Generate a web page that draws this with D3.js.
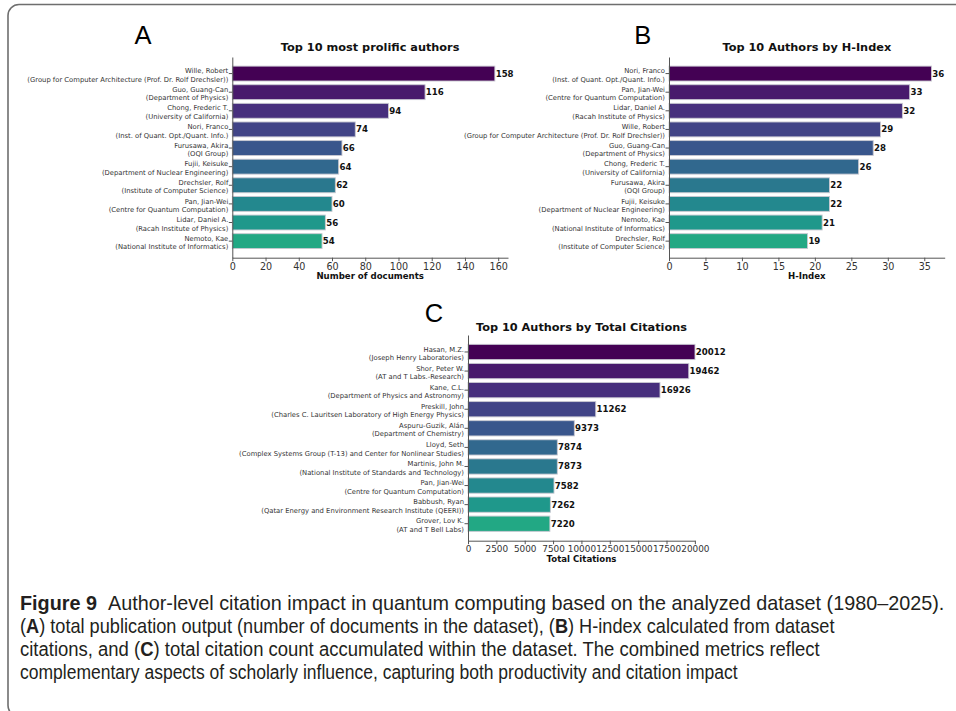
<!DOCTYPE html>
<html>
<head>
<meta charset="utf-8">
<script src="https://cdn.jsdelivr.net/npm/d3@7"></script>
<style>
  html, body { margin: 0; padding: 0; background: #fff; }
  svg { display: block; }
</style>
</head>
<body>
<svg id="fig" width="956" height="711"></svg>
<script>
// ---- Panel A: most prolific authors ----
const prolificNames = ["Wille, Robert", "Guo, Guang-Can", "Chong, Frederic T.", "Nori, Franco",
  "Furusawa, Akira", "Fujii, Keisuke", "Drechsler, Rolf", "Pan, Jian-Wei", "Lidar, Daniel A.", "Nemoto, Kae"];
const prolificAffils = ["(Group for Computer Architecture (Prof. Dr. Rolf Drechsler))", "(Department of Physics)",
  "(University of California)", "(Inst. of Quant. Opt./Quant. Info.)", "(OQI Group)",
  "(Department of Nuclear Engineering)", "(Institute of Computer Science)", "(Centre for Quantum Computation)",
  "(Racah Institute of Physics)", "(National Institute of Informatics)"];
const prolificDocs = [158, 116, 94, 74, 66, 64, 62, 60, 56, 54];
const prolificTicks = [0, 20, 40, 60, 80, 100, 120, 140, 160];

// ---- Panel B: H-index ----
const hNames = ["Nori, Franco", "Pan, Jian-Wei", "Lidar, Daniel A.", "Wille, Robert", "Guo, Guang-Can",
  "Chong, Frederic T.", "Furusawa, Akira", "Fujii, Keisuke", "Nemoto, Kae", "Drechsler, Rolf"];
const hAffils = ["(Inst. of Quant. Opt./Quant. Info.)", "(Centre for Quantum Computation)", "(Racah Institute of Physics)",
  "(Group for Computer Architecture (Prof. Dr. Rolf Drechsler))", "(Department of Physics)", "(University of California)",
  "(OQI Group)", "(Department of Nuclear Engineering)", "(National Institute of Informatics)", "(Institute of Computer Science)"];
const hIndex = [36, 33, 32, 29, 28, 26, 22, 22, 21, 19];
const hTicks = [0, 5, 10, 15, 20, 25, 30, 35];

// ---- Panel C: total citations ----
const citeNames = ["Hasan, M.Z.", "Shor, Peter W.", "Kane, C.L.", "Preskill, John", "Aspuru-Guzik, Alán",
  "Lloyd, Seth", "Martinis, John M.", "Pan, Jian-Wei", "Babbush, Ryan", "Grover, Lov K."];
const citeAffils = ["(Joseph Henry Laboratories)", "(AT and T Labs.-Research)", "(Department of Physics and Astronomy)",
  "(Charles C. Lauritsen Laboratory of High Energy Physics)", "(Department of Chemistry)",
  "(Complex Systems Group (T-13) and Center for Nonlinear Studies)", "(National Institute of Standards and Technology)",
  "(Centre for Quantum Computation)", "(Qatar Energy and Environment Research Institute (QEERI))", "(AT and T Bell Labs)"];
const citeTotals = [20012, 19462, 16926, 11262, 9373, 7874, 7873, 7582, 7262, 7220];
const citeTicks = [0, 2500, 5000, 7500, 10000, 12500, 15000, 17500, 20000];

// ---- Caption ----
const captionLabel = "Figure 9";
const captionLines = [
  [{b: false, t: "Author-level citation impact in quantum computing based on the analyzed dataset (1980–2025)."}],
  [{b: false, t: "("}, {b: true, t: "A"}, {b: false, t: ") total publication output (number of documents in the dataset), ("},
   {b: true, t: "B"}, {b: false, t: ") H-index calculated from dataset"}],
  [{b: false, t: "citations, and ("}, {b: true, t: "C"}, {b: false, t: ") total citation count accumulated within the dataset. The combined metrics reflect"}],
  [{b: false, t: "complementary aspects of scholarly influence, capturing both productivity and citation impact"}]
];

const svg = d3.select("#fig");
const SANS = "'DejaVu Sans', sans-serif";

// outer rounded frame (runs off the right and bottom edges)
svg.append("rect")
  .attr("x", 8).attr("y", 4.5).attr("width", 1000).attr("height", 712)
  .attr("rx", 11).attr("ry", 11)
  .attr("fill", "none").attr("stroke", "#6e6e6e").attr("stroke-width", 1.6);

function drawPanel(cfg) {
  const g = svg.append("g");
  const x = d3.scaleLinear().domain([0, cfg.xMax]).range(cfg.xRange);
  const y = d3.scaleBand().domain(d3.range(cfg.values.length)).range(cfg.yRange)
    .paddingInner(0.2).paddingOuter(0.49);
  const color = i => d3.interpolateViridis(i * 0.6 / (cfg.values.length - 1));

  // bars
  g.selectAll("rect.bar").data(cfg.values).join("rect")
    .attr("class", "bar")
    .attr("x", x(0))
    .attr("y", (d, i) => y(i))
    .attr("width", d => x(d) - x(0))
    .attr("height", y.bandwidth())
    .attr("fill", (d, i) => color(i))
    .attr("stroke", "#c9c9d2").attr("stroke-width", 0.9);

  // value labels
  g.selectAll("text.val").data(cfg.values).join("text")
    .attr("class", "val")
    .attr("x", d => x(d) + 0.8)
    .attr("y", (d, i) => y(i) + y.bandwidth() / 2 + 3)
    .attr("font-family", SANS).attr("font-weight", "bold").attr("font-size", 8.6)
    .attr("fill", "#111")
    .text(d => d);

  // x axis
  const xa = g.append("g").attr("transform", `translate(0,${cfg.yRange[1]})`)
    .call(d3.axisBottom(x).tickValues(cfg.ticks).tickFormat(d3.format("d"))
      .tickSize(3.5).tickSizeOuter(0).tickPadding(1.6));
  xa.selectAll("text").attr("font-family", SANS).attr("font-size", cfg.tickFont).attr("fill", "#333");
  xa.selectAll("line").attr("stroke", "#555");
  xa.select(".domain").attr("stroke", "#555").attr("stroke-width", 1);

  // y axis with two-line labels
  const ya = g.append("g").attr("transform", `translate(${cfg.xRange[0]},0)`)
    .call(d3.axisLeft(y).tickSize(3.5).tickSizeOuter(0).tickPadding(1.5).tickFormat(() => ""));
  ya.selectAll("line").attr("stroke", "#555");
  ya.select(".domain").attr("stroke", "#555").attr("stroke-width", 1);
  ya.selectAll(".tick").each(function (d) {
    const t = d3.select(this).select("text")
      .attr("font-family", SANS).attr("font-size", 6.8).attr("fill", "#333")
      .attr("x", -4).attr("dy", null).attr("y", null);
    t.append("tspan").attr("x", -4).attr("y", -0.4).text(cfg.names[d]);
    t.append("tspan").attr("x", -4).attr("y", 8.2).text(cfg.affils[d]);
  });

  const cx = (cfg.xRange[0] + cfg.xRange[1]) / 2;
  // title
  g.append("text").attr("x", cx).attr("y", cfg.titleY)
    .attr("text-anchor", "middle").attr("font-family", SANS).attr("font-weight", "bold")
    .attr("font-size", 11.3).attr("fill", "#111").text(cfg.title);
  // x label
  g.append("text").attr("x", cx).attr("y", cfg.yRange[1] + 21.5)
    .attr("text-anchor", "middle").attr("font-family", SANS).attr("font-weight", "bold")
    .attr("font-size", 8.6).attr("fill", "#111").text(cfg.xLabel);
  // panel letter
  g.append("text").attr("x", cfg.letterPos[0]).attr("y", cfg.letterPos[1])
    .attr("text-anchor", "middle").attr("font-family", "'Liberation Sans', Arial, sans-serif")
    .attr("font-size", 25.5).attr("fill", "#000").text(cfg.letter);
}

drawPanel({
  names: prolificNames, affils: prolificAffils, values: prolificDocs, ticks: prolificTicks, tickFont: 9.6,
  xMax: d3.max(prolificDocs) * 1.05, xRange: [232.3, 508], yRange: [57, 257.7],
  title: "Top 10 most prolific authors", titleY: 50.8, xLabel: "Number of documents",
  letter: "A", letterPos: [143, 43.5]
});

drawPanel({
  names: hNames, affils: hAffils, values: hIndex, ticks: hTicks, tickFont: 9.6,
  xMax: d3.max(hIndex) * 1.05, xRange: [669, 944.7], yRange: [57, 257.7],
  title: "Top 10 Authors by H-Index", titleY: 50.8, xLabel: "H-Index",
  letter: "B", letterPos: [642.7, 43.5]
});

drawPanel({
  names: citeNames, affils: citeAffils, values: citeTotals, ticks: citeTicks, tickFont: 8.9,
  xMax: d3.max(citeTotals), xRange: [468, 695], yRange: [335, 540.7],
  title: "Top 10 Authors by Total Citations", titleY: 330.8, xLabel: "Total Citations",
  letter: "C", letterPos: [434, 321.7]
});

// caption block, each line condensed horizontally to its set width
const CAP_FONT = "'Liberation Sans Narrow', 'Liberation Sans', Arial, sans-serif";
const capG = svg.append("g");
const capBaselines = [610.5, 633.5, 656.5, 679.5];
const capWidths = [925, 815, 800, 718];
captionLines.forEach((segs, li) => {
  const t = capG.append("text").attr("y", capBaselines[li])
    .attr("font-family", CAP_FONT).attr("font-size", 20).attr("fill", "#231f20");
  if (li === 0) {
    t.append("tspan").attr("font-weight", "bold").text(captionLabel);
    t.append("tspan").text("\u00a0\u00a0");
  }
  segs.forEach(s => t.append("tspan").attr("font-weight", s.b ? "bold" : null).text(s.t));
  const w = t.node().getComputedTextLength();
  t.attr("transform", `translate(20,0) scale(${capWidths[li] / w},1)`);
});
</script>
</body>
</html>
